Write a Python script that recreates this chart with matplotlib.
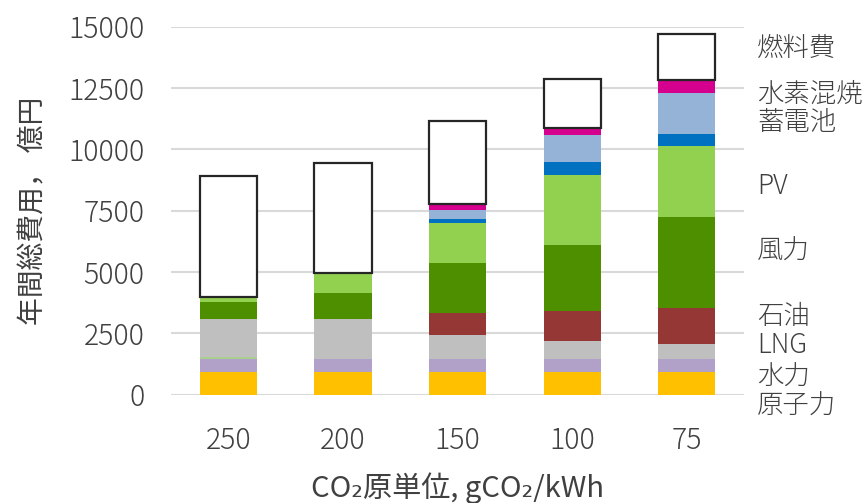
import matplotlib
matplotlib.use("Agg")
import matplotlib.pyplot as plt
import numpy as np

plt.rcParams['font.family'] = ['Noto Sans CJK JP', 'DejaVu Sans']
plt.rcParams['font.weight'] = 'light'

# CO2 intensity scenarios (gCO2/kWh)
categories = ["250", "200", "150", "100", "75"]

# Annual cost components, 100 million yen (stacked bottom to top)
nuclear   = [930, 930, 930, 930, 930]        # 原子力
hydro     = [520, 520, 520, 520, 520]        # 水力
other     = [90, 0, 0, 0, 0]                 # その他
lng       = [1530, 1610, 990, 720, 620]      # LNG
oil       = [0, 0, 880, 1250, 1450]          # 石油
wind      = [720, 1080, 2050, 2670, 3730]    # 風力
pv        = [200, 810, 1610, 2870, 2870]     # PV
batt_kw   = [0, 0, 160, 530, 515]            # 蓄電池 (出力)
batt_kwh  = [0, 0, 390, 1100, 1640]          # 蓄電池 (容量)
h2_cofire = [0, 0, 220, 270, 540]            # 水素混焼
fuel      = [4930, 4500, 3400, 1990, 1900]   # 燃料費

series = [nuclear, hydro, other, lng, oil, wind, pv, batt_kw, batt_kwh, h2_cofire]
colors = ["#FFC000", "#B1A0C7", "#A9D08E", "#BFBFBF", "#953735",
          "#4E8F00", "#92D050", "#0070C0", "#95B3D7", "#D6008F"]

# Right-hand labels: text and vertical position (data units)
side_labels = ["燃料費", "水素混焼", "蓄電池", "PV", "風力", "石油", "LNG", "水力", "原子力"]
side_label_y = [14120, 12250, 11100, 8500, 5850, 3200, 2010, 720, -470]

text_color = "#404040"

fig = plt.figure(figsize=(8.66, 5.03), dpi=100)
ax = fig.add_axes([0.1975, 0.2157, 0.6617, 0.7313])

x = np.arange(len(categories))
width = 0.5
bottom = np.zeros(len(categories))
for vals, col in zip(series, colors):
    vals = np.asarray(vals, dtype=float)
    ax.bar(x, vals, width, bottom=bottom, color=col, edgecolor="none", zorder=2)
    bottom += vals

ax.bar(x, fuel, width, bottom=bottom, facecolor="white", edgecolor="#262626",
       linewidth=1.6, zorder=3)

ax.set_xlim(-0.5, len(categories) - 0.5)
ax.set_ylim(0, 15000)
ax.set_yticks(np.arange(0, 15001, 2500))
ax.set_xticks(x)
ax.set_xticklabels(categories)

ax.grid(axis="y", color="#D9D9D9", linewidth=1.5, zorder=0)
ax.set_axisbelow(True)
for s in ax.spines.values():
    s.set_visible(False)

ax.tick_params(axis="both", length=0, labelsize=20.5, colors=text_color)
ax.tick_params(axis="y", pad=19)
ax.tick_params(axis="x", pad=22)

ax.set_ylabel("年間総費用， 億円", fontsize=20, color=text_color, labelpad=14)
ax.set_xlabel("CO₂原単位, gCO₂/kWh", fontsize=21, color=text_color, labelpad=12)

trans = matplotlib.transforms.blended_transform_factory(ax.transAxes, ax.transData)
for lab, yv in zip(side_labels, side_label_y):
    ax.text(1.023, yv, lab, transform=trans, ha="left", va="center",
            fontsize=19, color=text_color, clip_on=False)

fig.savefig("out.png", dpi=100)
